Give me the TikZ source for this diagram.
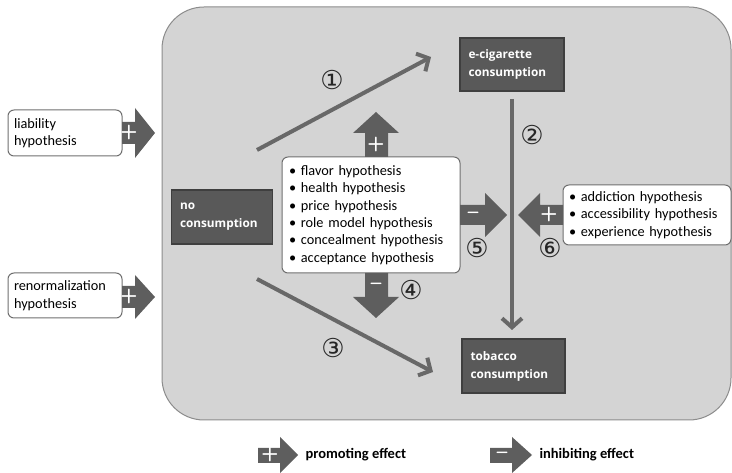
\documentclass[tikz,border=0pt]{standalone}
\usepackage{fontspec}
\setmainfont{Carlito}
\newfontfamily\boxfont{Open Sans}
\newfontfamily\circfont{DejaVu Sans}
\usepackage{tikz}
\usetikzlibrary{arrows.meta}
\definecolor{panelGray}{HTML}{D4D4D4}
\definecolor{panelEdge}{HTML}{8C8C8C}
\definecolor{arrowGray}{HTML}{5E5E5E}
\definecolor{lineGray}{HTML}{686868}
\definecolor{darkFill}{HTML}{595959}
\definecolor{darkEdge}{HTML}{3F3F3F}
\definecolor{boxEdge}{HTML}{6F6F6F}

\tikzset{
  darkbox/.style={draw=darkEdge, line width=1.2pt, fill=darkFill, text=white,
    font=\boxfont\bfseries\fontsize{11.8}{18}\selectfont, align=left,
    inner xsep=8pt, anchor=center},
  listbox/.style={draw=boxEdge, line width=1pt, fill=white, rounded corners=6pt,
    align=left, font=\fontsize{14.3}{17.4}\selectfont},
  effect/.style={font=\sffamily\bfseries\fontsize{20}{20}\selectfont, text=white},
  stepnum/.style={font=\circfont\fontsize{26}{26}\selectfont, text=black!85},
  path arrow/.style={draw=lineGray, line width=4pt,
    -{Straight Barb[length=9pt, width=20pt, line width=4pt]}},
}

\begin{document}
\begin{tikzpicture}[x=1pt, y=-1pt]
  \useasboundingbox (0,0) rectangle (732,473);
  % Grey panel behind the model
  \filldraw[fill=panelGray, draw=panelEdge, line width=1pt, rounded corners=42pt]
    (162,7) rectangle (731,420);

  % Consumption states
  \node[darkbox, minimum width=101pt, minimum height=54pt, text width=84pt] (none) at (222,217) {no\\consumption};
  \node[darkbox, minimum width=104pt, minimum height=53pt, text width=87pt] (ecig) at (512,64.5) {e-cigarette\\consumption};
  \node[darkbox, minimum width=103pt, minimum height=54pt, text width=86pt] (tobacco) at (513.5,366) {tobacco\\consumption};

  % Hypothesis boxes
  \node[listbox, minimum width=178pt, minimum height=116pt, text width=164pt] (gateway) at (371,215)
    {\textbullet\ flavor hypothesis\\ \textbullet\ health hypothesis\\ \textbullet\ price hypothesis\\
     \textbullet\ role model hypothesis\\ \textbullet\ concealment hypothesis\\ \textbullet\ acceptance hypothesis};
  \node[listbox, minimum width=168pt, minimum height=60pt, text width=156pt] (switch) at (647,215)
    {\textbullet\ addiction hypothesis\\ \textbullet\ accessibility hypothesis\\ \textbullet\ experience hypothesis};
  \node[listbox, minimum width=114pt, minimum height=46pt, text width=102pt] (liability) at (65,133)
    {liability\\hypothesis};
  \node[listbox, minimum width=114pt, minimum height=45pt, text width=102pt] (renorm) at (65,295.5)
    {renormalization\\hypothesis};

  % Transition paths
  \coordinate (p1s) at (257,150);
  \coordinate (p1e) at (431,57);
  \coordinate (p3s) at (257,279);
  \coordinate (p3e) at (433,372);
  \coordinate (p2s) at (512,99);
  \coordinate (p2e) at (512,330);
  \draw[path arrow] (p1s) -- (p1e);
  \draw[path arrow] (p3s) -- (p3e);
  \draw[path arrow, line width=3.2pt] (p2s) -- (p2e);
  \node[stepnum] (n1) at (332,80) {①};
  \node[stepnum] (n2) at (532,135) {②};
  \node[stepnum] (n3) at (333,348) {③};
  \node[stepnum] (n4) at (411,290) {④};
  \node[stepnum] (n5) at (477,248) {⑤};
  \node[stepnum] (n6) at (550,248) {⑥};

  % Block arrows: liability and renormalization
  \fill[arrowGray] (122,122) -- (135,122) -- (135,108) -- (155,133) -- (135,158) -- (135,144) -- (122,144) -- cycle;
  \node[effect] (lplus) at (129,133) {+};
  \fill[arrowGray] (122,286) -- (135,286) -- (135,275) -- (155,297) -- (135,319) -- (135,308) -- (122,308) -- cycle;
  \node[effect] (rplus) at (129,297) {+};
  % Block arrows around the gateway box
  \fill[arrowGray] (365,157) -- (365,133) -- (353,133) -- (376,112) -- (399,133) -- (388,133) -- (388,157) -- cycle;
  \node[effect] (uplus) at (376,145) {+};
  \fill[arrowGray] (365,273) -- (365,297) -- (353,297) -- (376,318) -- (399,297) -- (388,297) -- (388,273) -- cycle;
  \node[effect] (dminus) at (376,286) {--};
  \fill[arrowGray] (460,205) -- (485,205) -- (485,193) -- (507,215) -- (485,237) -- (485,225) -- (460,225) -- cycle;
  \node[effect] (rminus) at (473,215) {--};
  \fill[arrowGray] (563,205) -- (540,205) -- (540,193) -- (518,215) -- (540,237) -- (540,225) -- (563,225) -- cycle;
  \node[effect] (lplus2) at (549,215) {+};

  % Legend
  \fill[arrowGray] (258,448) -- (280,448) -- (280,437) -- (298,455) -- (280,473) -- (280,463) -- (258,463) -- cycle;
  \node[effect] (keyplus) at (270,455) {+};
  \node[anchor=west, font=\bfseries\fontsize{14.5}{15}\selectfont] (keypro) at (302,455) {promoting effect};
  \fill[arrowGray] (490,448) -- (512,448) -- (512,437) -- (532,455) -- (512,473) -- (512,463) -- (490,463) -- cycle;
  \node[effect] (keyminus) at (502,455) {--};
  \node[anchor=west, font=\bfseries\fontsize{14.5}{15}\selectfont] (keyinh) at (536,455) {inhibiting effect};
\end{tikzpicture}
\end{document}
